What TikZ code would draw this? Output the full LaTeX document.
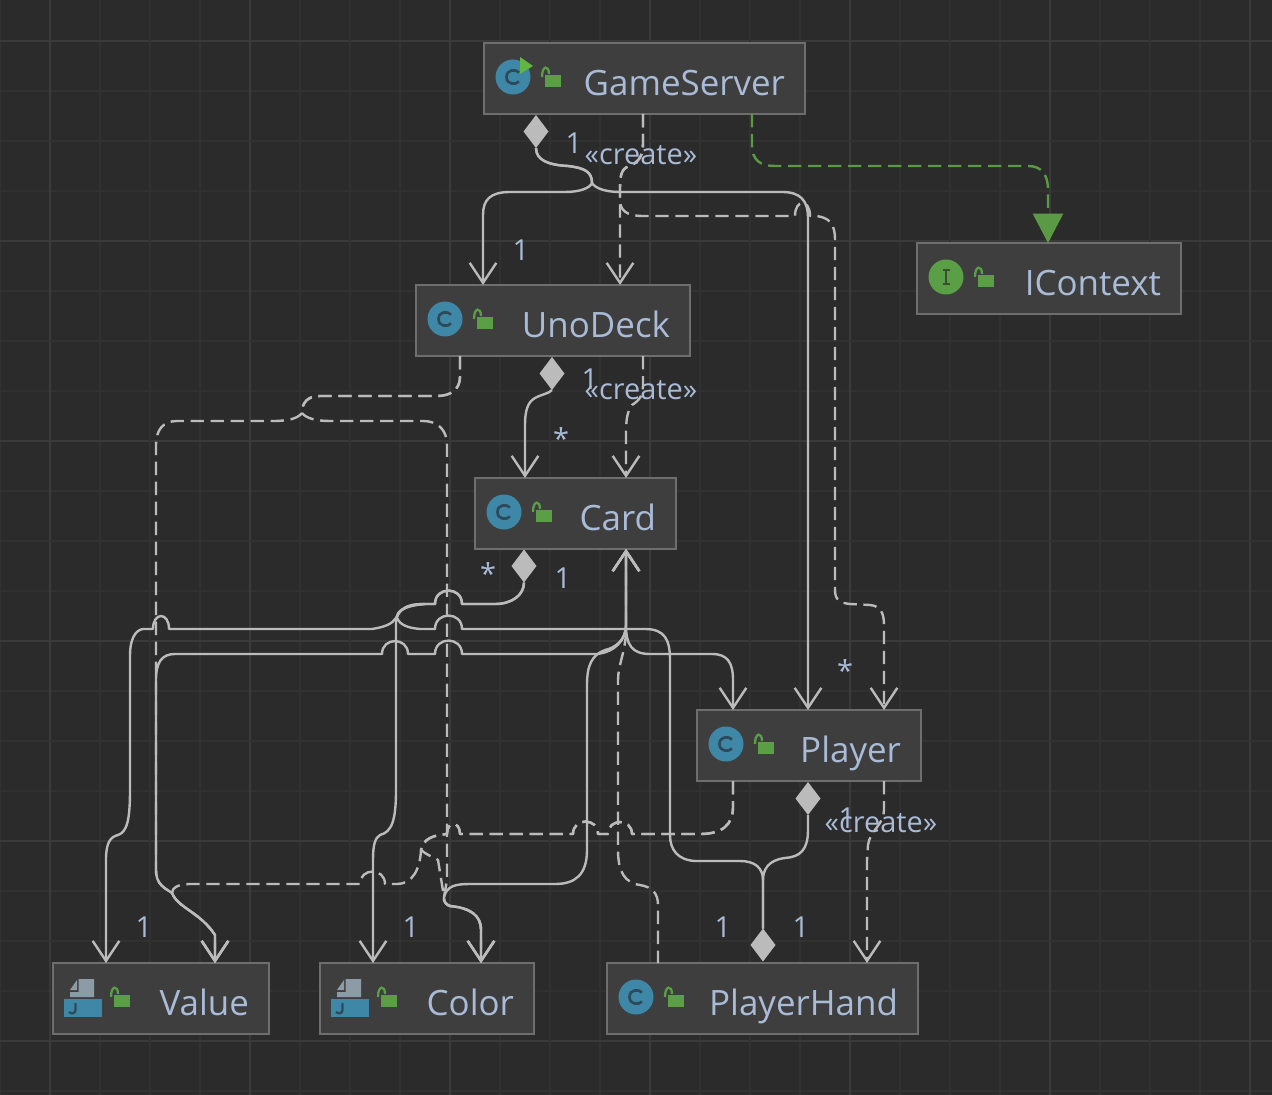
\documentclass[tikz,border=0pt]{standalone}
\usepackage{fontspec}
\setmainfont{Open Sans}
\usetikzlibrary{arrows.meta,shapes.geometric,calc}
\definecolor{bgc}{HTML}{2B2B2B}
\definecolor{gridmaj}{HTML}{3A3A3A}
\definecolor{gridmin}{HTML}{313131}
\definecolor{boxfill}{HTML}{3E3E3E}
\definecolor{boxline}{HTML}{6E6E6E}
\definecolor{linkc}{HTML}{BBBBBB}
\definecolor{labelc}{HTML}{A9BBD6}
\definecolor{greenc}{HTML}{5A9A45}
\definecolor{lockc}{HTML}{5A9E45}
\definecolor{bluec}{HTML}{3F87A6}
\definecolor{inkc}{HTML}{2C4A5A}
\definecolor{filec}{HTML}{8D9BA6}
\definecolor{playc}{HTML}{62B543}
\tikzset{
  x=0.75pt,y=-0.75pt,
  box/.style={draw=boxline,fill=boxfill,line width=1.5pt,minimum height=53.25pt,outer sep=0pt,
    inner xsep=15pt,inner ysep=0pt,text width=#1*0.75pt-30pt,align=right,text=labelc,
    font=\fontsize{26.2pt}{30pt}\selectfont,text height=27.2pt,text depth=1.8pt},
  dia/.style={diamond,fill=linkc,inner sep=0pt,minimum width=18.75pt,minimum height=24.75pt,outer sep=0pt},
  tag/.style={text=labelc,inner sep=0pt,font=\fontsize{21.7pt}{24pt}\selectfont},
  link/.style={draw=linkc,line width=1.8pt,line join=round},
  dashlink/.style={link,dash pattern=on 10pt off 5pt},
  openhead/.style={-{Straight Barb[length=15pt,width=20pt,line width=1.8pt]}},
  bothheads/.style={{Straight Barb[length=15pt,width=20pt,line width=1.8pt]}-{Straight Barb[length=15pt,width=20pt,line width=1.8pt]}},
  starthead/.style={{Straight Barb[length=15pt,width=20pt,line width=1.8pt]}-},
  hop/.style={out=90,in=90,looseness=#1},
  hop/.default=1.7,
  lockicon/.pic={
    \fill[lockc] (11,-2) rectangle (27,10);
    \draw[lockc,line width=1.7pt] (8,0) .. controls (8,-12) and (15,-12) .. (15,-3);
  },
  classicon/.pic={
    \fill[bluec] (0,0) circle[radius=17.5];
    \draw[inkc,line width=2pt] (6,-4.5) .. controls (3,-8) and (-6.5,-8) .. (-6.5,0) .. controls (-6.5,8) and (3,8) .. (6,4.5);
    \begin{scope}[shift={(21,0)}]\pic {lockicon};\end{scope}
  },
  ificon/.pic={
    \fill[lockc] (0,0) circle[radius=17.5];
    \draw[bgc!70!lockc,line width=1.5pt] (-3.5,-7) -- (3.5,-7) (0,-7) -- (0,7) (-3.5,7) -- (3.5,7);
    \begin{scope}[shift={(21,0)}]\pic {lockicon};\end{scope}
  },
  enumicon/.pic={
    \fill[filec] (-4.5,-21) -- (11,-21) -- (11,-3) -- (-13,-3) -- (-13,-8) -- (-4.5,-8) -- cycle;
    \fill[filec] (-13,-10) -- (-6,-20) -- (-6,-10) -- cycle;
    \fill[bluec] (-19,-1) rectangle (19,17);
    \draw[inkc,line width=1.7pt] (-7.5,3) -- (-7.5,10) .. controls (-7.5,14) and (-12,14) .. (-14,12);
    \begin{scope}[shift={(20,-3)}]\pic {lockicon};\end{scope}
  }
}
\begin{document}
\begin{tikzpicture}
\useasboundingbox (0,0) rectangle (1272,1095);
\fill[bgc] (0,0) rectangle (1272,1095);
\foreach \gx in {0,100,...,1200} \draw[gridmin,line width=1pt] (\gx,0) -- (\gx,1095);
\foreach \gy in {-9,91,...,1091} \draw[gridmin,line width=1pt] (0,\gy) -- (1272,\gy);
\foreach \gx in {50,250,...,1250} \draw[gridmaj,line width=1.5pt] (\gx,0) -- (\gx,1095);
\foreach \gy in {41,241,...,1041} \draw[gridmaj,line width=1.5pt] (0,\gy) -- (1272,\gy);
\foreach \gx in {150,350,...,1150} \draw[gridmin,line width=1pt] (\gx,0) -- (\gx,1095);
\foreach \gy in {141,341,...,941} \draw[gridmin,line width=1pt] (0,\gy) -- (1272,\gy);

\node[box=321] (gs) at (644.5,78.5) {GameServer};
\node[box=274] (ud) at (553,320.5) {UnoDeck};
\node[box=201] (ca) at (575.5,513.5) {Card};
\node[box=264] (ic) at (1049,278.5) {IContext};
\node[box=224] (pl) at (809,745.5) {Player};
\node[box=216] (va) at (161,998.5) {Value};
\node[box=214] (co) at (427,998.5) {Color};
\node[box=311] (ph) at (762.5,998.5) {PlayerHand};

\pic at (513,77) {classicon};
\fill[playc] (520,57) -- (533,66) -- (520,74) -- cycle;
\pic at (445,319) {classicon};
\pic at (504,512) {classicon};
\pic at (726,744) {classicon};
\pic at (636,997) {classicon};
\pic at (946,277) {ificon};
\pic at (83,1000) {enumicon};
\pic at (350,1000) {enumicon};

\node[dia] (d1) at (536,131.5) {};
\node[dia] (d2) at (552,373.5) {};
\node[dia] (d3) at (524,566) {};
\node[dia] (d4) at (808,798.5) {};
\node[dia] (d5) at (763,945) {};

% GameServer composition
\draw[link,openhead] (d1.south) .. controls (536,160) and (548,165) .. (568,166) .. controls (585,168) and (592,172) .. (592,183) .. controls (590,188) and (580,192) .. (565,192) -- (510,192) .. controls (490,192) and (483,200) .. (483,215) -- (483,0 |- ud.north);
\draw[link,openhead] (d1.south) .. controls (536,160) and (548,165) .. (568,166) .. controls (585,168) and (592,172) .. (592,183) .. controls (595,188) and (605,192) .. (620,192) -- (782,192) .. controls (800,192) and (808,200) .. (808,218) -- (808,0 |- pl.north);
% GameServer create
\draw[dashlink,openhead] (643,0 |- gs.south) -- (643,143) .. controls (643,155) and (640,160) .. (632,165) .. controls (622,168) and (620,172) .. (620,190) -- (620,0 |- ud.north);
\draw[dashlink,openhead] (643,0 |- gs.south) -- (643,143) .. controls (643,155) and (640,160) .. (632,165) .. controls (622,168) and (620,172) .. (620,190) -- (620,200) .. controls (620,210) and (626,216) .. (643,216) -- (795,216) to[hop=2.95] (810,216) -- (817,216) .. controls (828,218) and (835,222) .. (835,240) -- (835,590) .. controls (835,600) and (840,603) .. (850,604) -- (870,605) .. controls (880,606) and (884,612) .. (884,625) -- (884,0 |- pl.north);
% IContext
\draw[greenc,line width=1.8pt,dash pattern=on 10pt off 5pt,-{Triangle[length=22pt,width=22.5pt]}] (752,0 |- gs.south) -- (752,145) .. controls (752,160) and (760,166) .. (775,166) -- (1028,166) .. controls (1042,166) and (1048,175) .. (1048,190) -- (1048,0 |- ic.north);
% UnoDeck to Card
\draw[link,openhead] (d2.south) .. controls (550,393) and (540,395) .. (535,398) .. controls (528,402) and (525,410) .. (525,425) -- (525,0 |- ca.north);
\draw[dashlink,openhead] (643,0 |- ud.south) -- (643,385) .. controls (643,395) and (640,400) .. (632,405) .. controls (627,412) and (626,420) .. (626,435) -- (626,0 |- ca.north);
% UnoDeck dashed to Value and Color
\draw[dashlink,openhead] (460,0 |- ud.south) -- (460,377) .. controls (460,390) and (450,396) .. (437,396) -- (320,396) .. controls (307,396) and (302,403) .. (302,413) .. controls (298,418) and (290,421) .. (273,421) -- (177,421) .. controls (163,421) and (156,430) .. (156,445) -- (156,870) .. controls (156,885) and (165,888) .. (172,893) .. controls (178,908) and (200,912) .. (215,935) -- (215,0 |- va.north);
\draw[dashlink,openhead] (460,0 |- ud.south) -- (460,377) .. controls (460,390) and (450,396) .. (437,396) -- (320,396) .. controls (307,396) and (302,403) .. (302,413) .. controls (306,418) and (315,421) .. (330,421) -- (423,421) .. controls (438,421) and (447,430) .. (447,445) -- (447,880) -- (444,897) .. controls (443,902) and (447,905) .. (450,906) .. controls (470,908) and (481,915) .. (481,930) -- (481,0 |- co.north);
% Card composition
\draw[link,openhead] (d3.south) .. controls (524,595) and (512,604) .. (495,604) -- (462,604) to[hop] (435,604) -- (425,604) .. controls (410,604) and (398,608) .. (396,620) -- (396,790) .. controls (396,820) and (392,832) .. (380,835) .. controls (375,838) and (373,845) .. (373,860) -- (373,0 |- co.north);
\draw[link,openhead] (d3.south) .. controls (524,595) and (512,604) .. (495,604) -- (462,604) to[hop] (435,604) -- (425,604) .. controls (410,604) and (402,606) .. (396,618) .. controls (392,624) and (385,627) .. (372,629) -- (169,629) to[hop=2.77] (153,629) -- (143,629) .. controls (135,630) and (130,640) .. (130,655) -- (130,790) .. controls (130,820) and (127,832) .. (118,835) .. controls (110,837) and (106,843) .. (106,860) -- (106,0 |- va.north);
% PlayerHand composition
\draw[link] (d5.north) -- (763,880) .. controls (763,868) and (755,861) .. (740,861) -- (695,861) .. controls (678,860) and (670,850) .. (670,835) -- (670,660) .. controls (670,640) and (665,629) .. (645,629) -- (462,629) to[hop] (435,629) -- (420,629) .. controls (408,628) and (400,625) .. (397,618) .. controls (396,612) and (403,606) .. (425,604);
\draw[link] (d5.north) -- (763,880) .. controls (763,870) and (768,860) .. (785,858) .. controls (800,857) and (808,850) .. (808,830) -- (d4.south);
% Lines into Card
\draw[link,bothheads] (626,0 |- ca.south) -- (626,625) .. controls (626,645) and (632,654) .. (650,654) -- (712,654) .. controls (727,654) and (733,662) .. (733,680) -- (733,0 |- pl.north);
\draw[link,bothheads] (626,0 |- ca.south) -- (626,625) .. controls (626,640) and (615,652) .. (597,654) -- (462,654) to[hop] (435,654) -- (408,654) to[hop] (382,654) -- (175,654) .. controls (162,654) and (156,662) .. (156,680) -- (156,870) .. controls (156,885) and (165,888) .. (172,893) .. controls (178,908) and (200,912) .. (215,935) -- (215,0 |- va.north);
\draw[link,bothheads] (626,0 |- ca.south) -- (626,625) .. controls (626,640) and (615,648) .. (605,650) .. controls (592,655) and (587,665) .. (587,685) -- (587,850) .. controls (587,875) and (575,884) .. (555,884) -- (470,884) .. controls (455,884) and (447,886) .. (444,897) .. controls (443,902) and (447,905) .. (450,906) .. controls (470,908) and (481,915) .. (481,930) -- (481,0 |- co.north);
\draw[dashlink,starthead] (626,0 |- ca.south) -- (626,630) .. controls (626,650) and (618,665) .. (618,680) -- (618,850) .. controls (618,872) and (625,883) .. (640,885) .. controls (652,887) and (658,893) .. (658,905) -- (658,0 |- ph.north);
% Player dashed
\draw[dashlink,openhead] (733,0 |- pl.south) -- (733,807) .. controls (733,825) and (722,834) .. (700,834) -- (632,834) to[hop] (608,834) -- (598,834) to[hop] (573,834) -- (460,834) to[hop=2.6] (447,834) .. controls (435,835) and (423,838) .. (421,850) .. controls (420,870) and (412,884) .. (397,884) -- (385,884) to[hop] (360,884) -- (190,884) .. controls (178,884) and (172,888) .. (172,893) .. controls (178,908) and (200,912) .. (215,935) -- (215,0 |- va.north);
\draw[dashlink,openhead] (733,0 |- pl.south) -- (733,807) .. controls (733,825) and (722,834) .. (700,834) -- (632,834) to[hop] (608,834) -- (598,834) to[hop] (573,834) -- (460,834) to[hop=2.6] (447,834) .. controls (435,835) and (423,838) .. (421,850) .. controls (428,856) and (436,858) .. (438,860) -- (444,897) .. controls (443,902) and (447,905) .. (450,906) .. controls (470,908) and (481,915) .. (481,930) -- (481,0 |- co.north);
\draw[dashlink,openhead] (884,0 |- pl.south) -- (884,810) .. controls (884,825) and (870,830) .. (868,845) -- (867,860) -- (867,0 |- ph.north);

\node[tag] (t1) at (574,143) {1};
\node[tag] (t2) at (641,155) {«create»};
\node[tag] (t3) at (521,250) {1};
\node[tag] (t4) at (590,379) {1};
\node[tag] (t5) at (641,390) {«create»};
\node[tag] (t6) at (561,439) {*};
\node[tag] (t7) at (488,574) {*};
\node[tag] (t8) at (563,578) {1};
\node[tag] (t9) at (845,671) {*};
\node[tag] (t10) at (847,818) {1};
\node[tag] (t11) at (881,823) {«create»};
\node[tag] (t12) at (144,927) {1};
\node[tag] (t13) at (411,927) {1};
\node[tag] (t14) at (723,927) {1};
\node[tag] (t15) at (801,927) {1};
\end{tikzpicture}
\end{document}
